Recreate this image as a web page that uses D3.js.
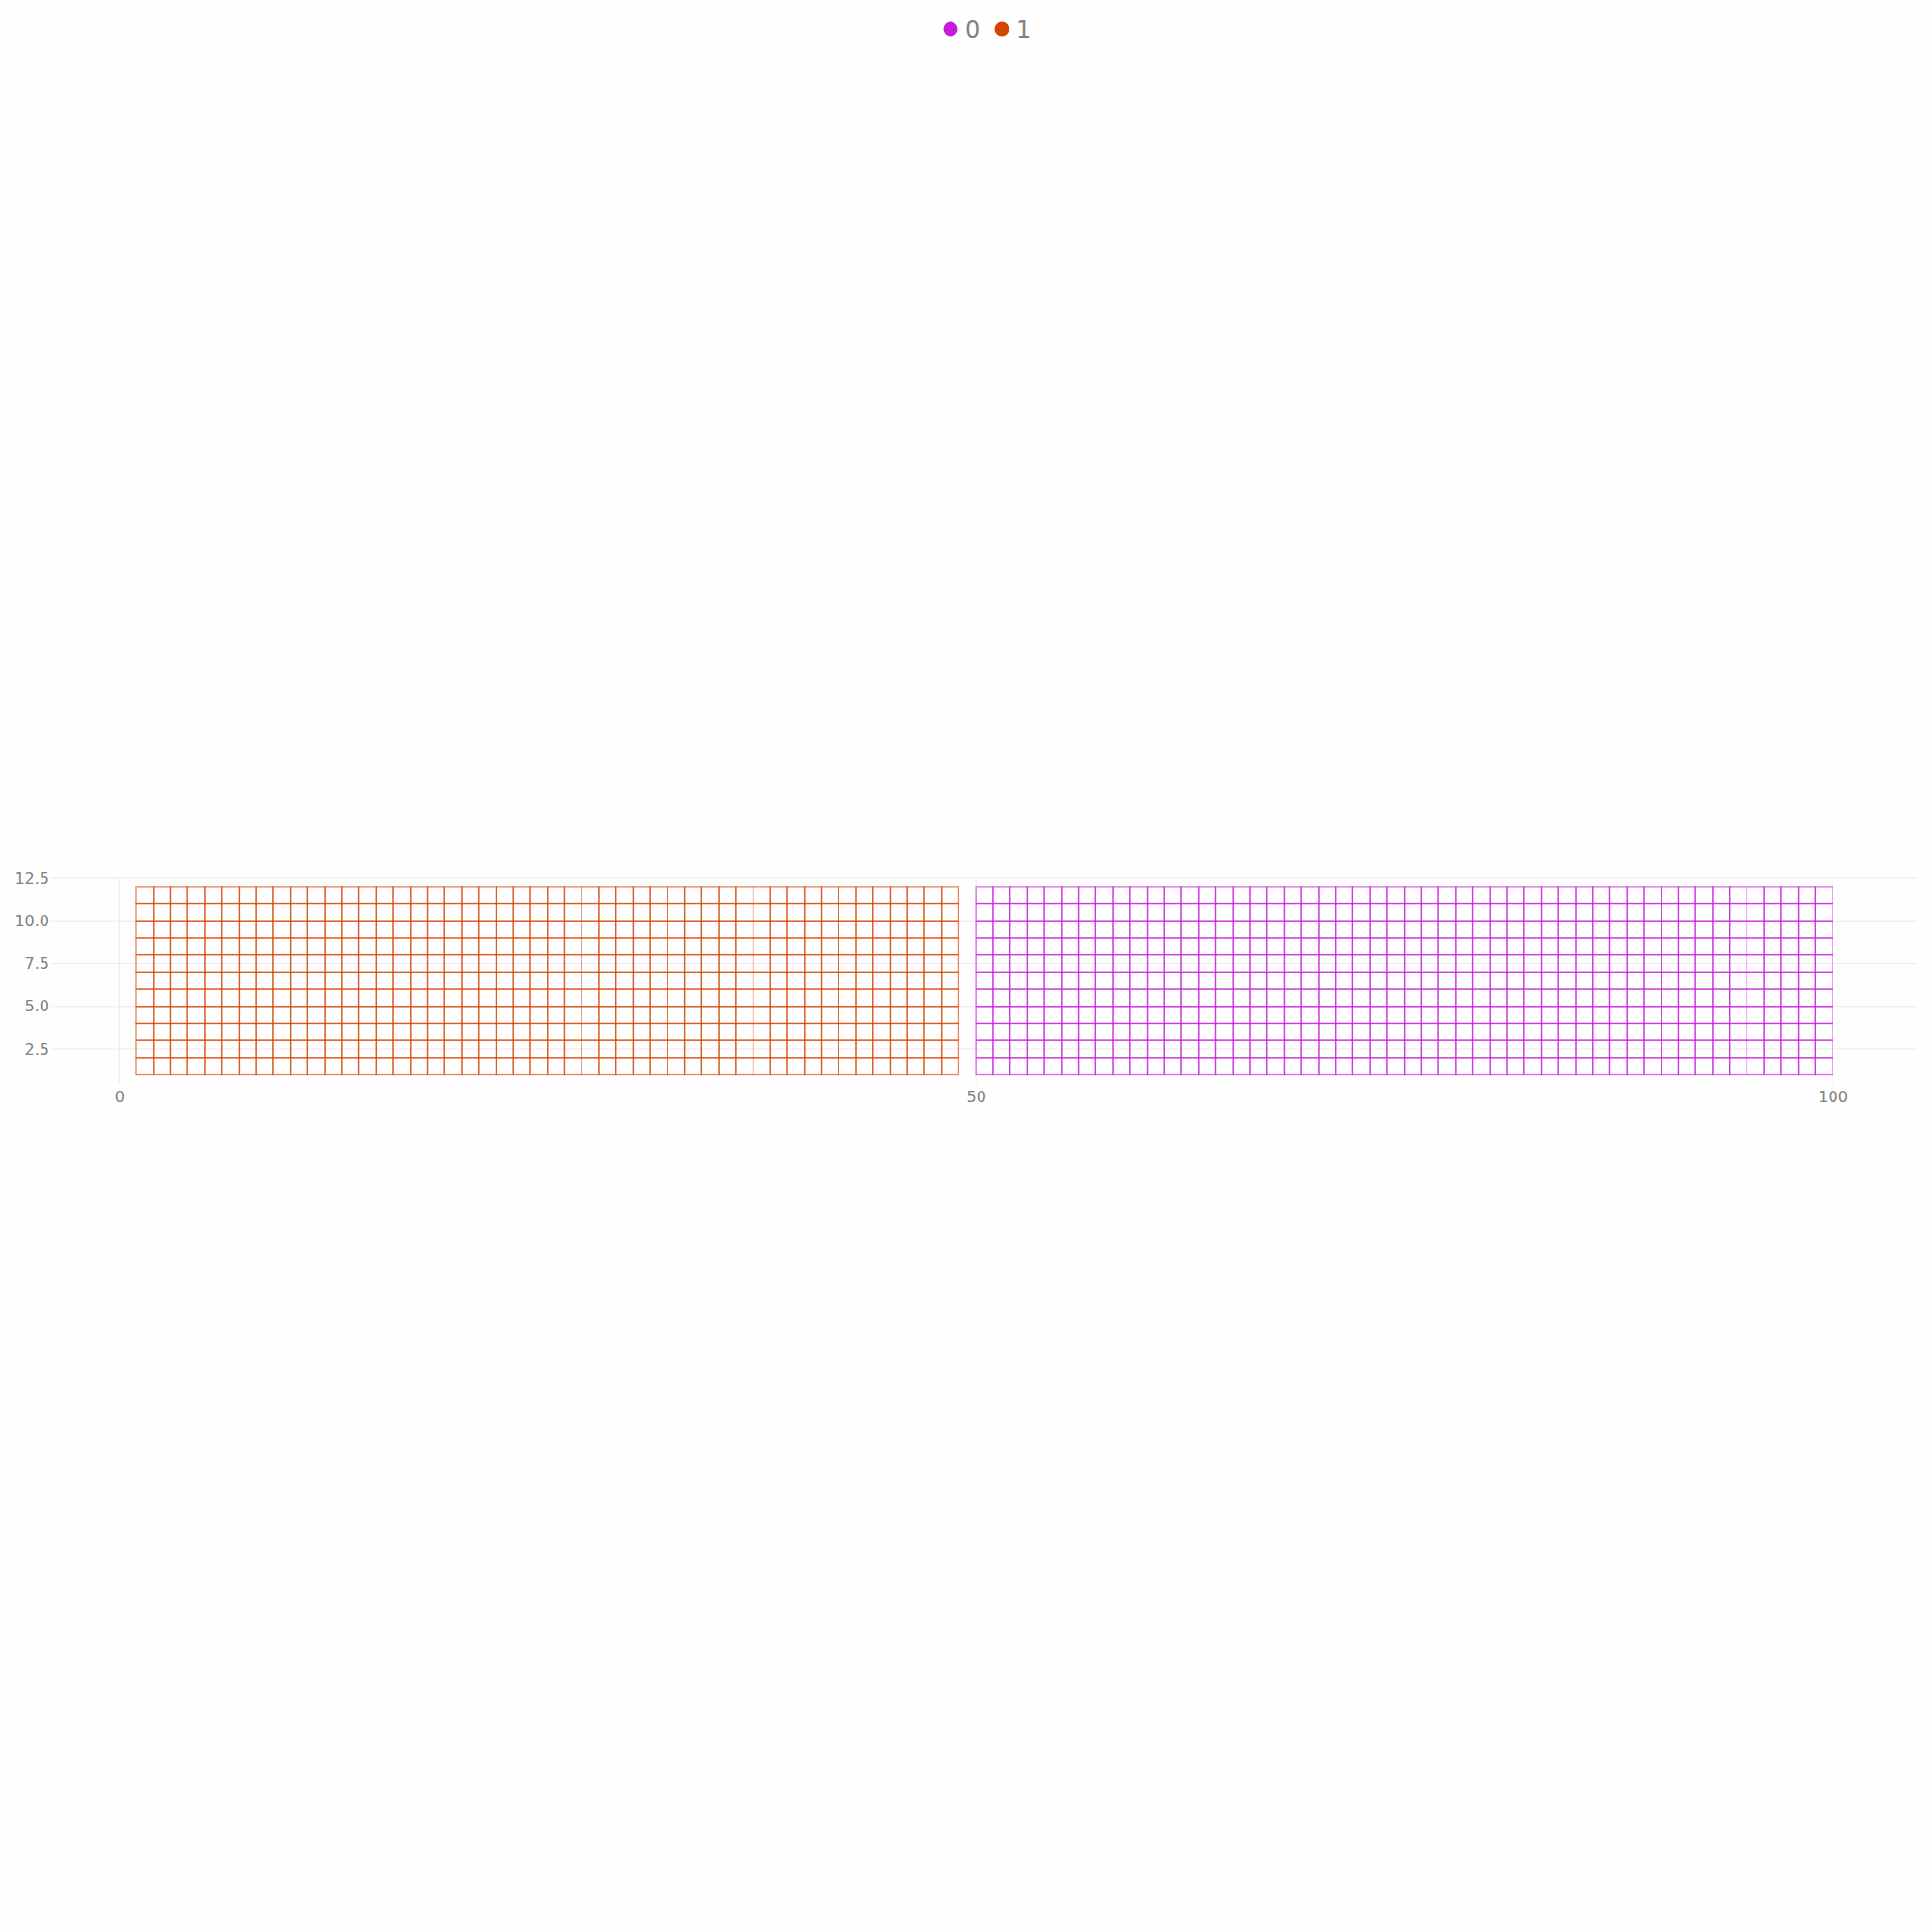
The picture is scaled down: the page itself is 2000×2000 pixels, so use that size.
<!DOCTYPE html>
<html>
<head>
<meta charset="utf-8">
<script src="https://cdn.jsdelivr.net/npm/d3@7"></script>
<style>
  html, body { margin: 0; padding: 0; background: #fefefe; }
  svg { display: block; }
</style>
</head>
<body>
<svg id="chart" width="2000" height="2000"></svg>
<script>
// ---- data ----
const seriesNames = ["0", "1"];
const seriesColors = ["#c71ddb", "#d44500"];
// column left edges (x) of each unit cell, per series
const series1Cols = [1,2,3,4,5,6,7,8,9,10,11,12,13,14,15,16,17,18,19,20,21,22,23,24,25,26,27,28,29,30,31,32,33,34,35,36,37,38,39,40,41,42,43,44,45,46,47,48];
const series0Cols = [50,51,52,53,54,55,56,57,58,59,60,61,62,63,64,65,66,67,68,69,70,71,72,73,74,75,76,77,78,79,80,81,82,83,84,85,86,87,88,89,90,91,92,93,94,95,96,97,98,99];
// row bottom edges (y) of each unit cell
const rows = [1,2,3,4,5,6,7,8,9,10,11];
const xTicks = [0, 50, 100];
const yTicks = [2.5, 5.0, 7.5, 10.0, 12.5];

// ---- layout ----
const svg = d3.select("#chart");
const pLeft = 53, pRight = 1984, pTop = 909, pBottom = 1123;
const x = d3.scaleLinear().domain([-3.96, 104.9]).range([pLeft, pRight]);
const y = d3.scaleLinear().domain([0.41, 12.5]).range([pBottom, pTop]);

svg.append("rect").attr("width", 2000).attr("height", 2000).attr("fill", "#fefefe");

// gridlines
const grid = svg.append("g");
grid.selectAll("line.h").data(yTicks).join("line").attr("class", "h")
  .attr("x1", pLeft).attr("x2", pRight)
  .attr("y1", d => y(d)).attr("y2", d => y(d))
  .attr("stroke", "#ebebeb").attr("stroke-width", 1);
grid.selectAll("line.v").data(xTicks).join("line").attr("class", "v")
  .attr("y1", pTop).attr("y2", pBottom)
  .attr("x1", d => x(d)).attr("x2", d => x(d))
  .attr("stroke", "#ebebeb").attr("stroke-width", 1);

// axes labels
const font = "'DejaVu Sans', sans-serif";
const xAxis = d3.axisBottom(x).tickValues(xTicks).tickSize(0).tickPadding(7).tickFormat(d3.format("d"));
const gx = svg.append("g").attr("transform", `translate(0,${pBottom})`).call(xAxis);
gx.select(".domain").remove();
gx.selectAll("text").attr("fill", "#808080").style("font-family", font).style("font-size", "16px");

const yAxis = d3.axisLeft(y).tickValues(yTicks).tickSize(0).tickPadding(2).tickFormat(d3.format(".1f"));
const gy = svg.append("g").attr("transform", `translate(${pLeft},0)`).call(yAxis);
gy.select(".domain").remove();
gy.selectAll("text").attr("fill", "#808080").style("font-family", font).style("font-size", "16px");

// cells
function drawCells(cols, color) {
  const cells = [];
  cols.forEach(c => rows.forEach(r => cells.push({c, r})));
  svg.append("g").selectAll("rect").data(cells).join("rect")
    .attr("x", d => x(d.c))
    .attr("y", d => y(d.r + 1))
    .attr("width", d => x(d.c + 1) - x(d.c))
    .attr("height", d => y(d.r) - y(d.r + 1))
    .attr("fill", "none")
    .attr("stroke", color)
    .attr("stroke-opacity", 0.65)
    .attr("stroke-width", 1.3);
}
drawCells(series1Cols, seriesColors[1]);
drawCells(series0Cols, seriesColors[0]);

// legend
const legend = svg.append("g").attr("transform", "translate(0,30)");
const legendX = [984, 1037];
seriesNames.forEach((name, i) => {
  legend.append("circle").attr("cx", legendX[i]).attr("cy", 0).attr("r", 7.5).attr("fill", seriesColors[i]);
  legend.append("text").attr("x", legendX[i] + 15).attr("y", 0).attr("dy", "0.36em")
    .attr("fill", "#808080").style("font-family", font).style("font-size", "24px").text(name);
});
</script>
</body>
</html>
